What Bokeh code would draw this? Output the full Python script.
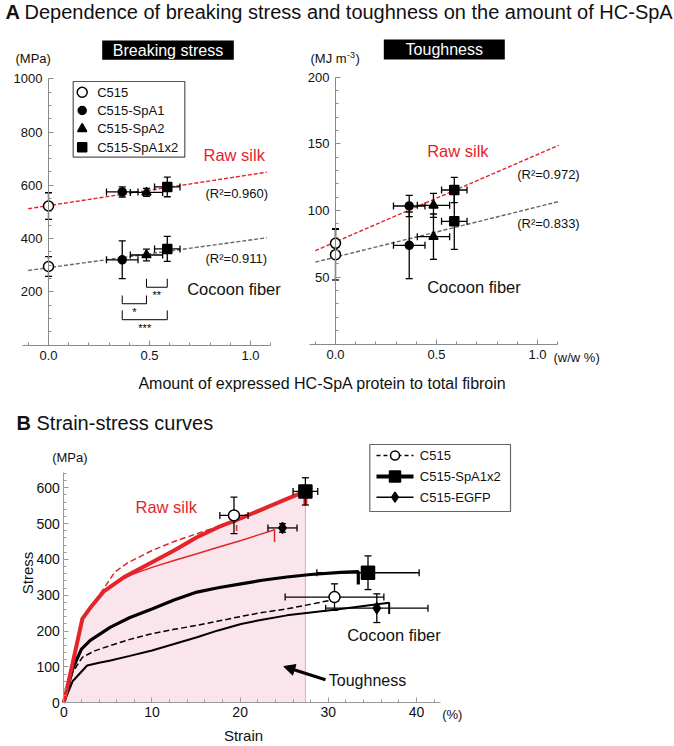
import numpy as np
from bokeh.plotting import figure
from bokeh.models import (Range1d, LinearAxis, FixedTicker, PrintfTickFormatter,
                          Arrow, NormalHead)
from bokeh.core.properties import value
from bokeh.embed import file_html
from bokeh.resources import INLINE

# ---------------- data (panel A) ----------------
lines_A = ["C515", "C515-SpA1", "C515-SpA2", "C515-SpA1x2"]
amount = [0.0, 0.365, 0.485, 0.588]            # w/w %
amount_err = [0.0, 0.078, 0.08, 0.063]

stress_raw = [522, 575, 573, 594]               # MPa
stress_raw_err = [50, 19, 15, 37]
stress_cocoon = [295, 320, 338, 361]
stress_cocoon_err = [37, 71, 22, 47]

tough_raw = [75.5, 103.5, 104, 115.5]           # MJ m-3
tough_raw_err = [11, 8, 9, 9.5]
tough_cocoon = [67, 74, 80.5, 92]
tough_cocoon_err = [19, 25, 17, 21]

fit_stress_raw_x = [-0.1, 1.08]
fit_stress_raw_y = [512, 649]
fit_stress_cocoon_x = [-0.1, 1.08]
fit_stress_cocoon_y = [280, 403]
fit_tough_raw_x = [-0.1, 1.105]
fit_tough_raw_y = [70, 149]
fit_tough_cocoon_x = [-0.1, 1.11]
fit_tough_cocoon_y = [61.4, 107]

r2_stress = ["0.960", "0.911"]
r2_tough = ["0.972", "0.833"]

sig_labels = ["**", "*", "***"]
sig_x0 = [0.485, 0.365, 0.365]
sig_x1 = [0.588, 0.485, 0.588]
sig_base = [217, 155, 95]
sig_top = [249, 186, 130]

# ---------------- data (panel B) ----------------
raw_sp_strain = [0, 1.0, 2.1, 3.0, 4.5, 6.8, 10, 12.5, 15.1, 17.5, 20.1, 22.5, 25.3, 27.4]
raw_sp_stress = [0, 110, 234, 265, 310, 350, 392, 425, 462, 490, 515, 540, 569, 590]
raw_sp_break = 553
raw_c515_strain = [0, 1.0, 2.1, 3.0, 4.5, 5.8, 7.2, 10, 12.5, 15.1, 17.5, 19.6]
raw_c515_stress = [0, 110, 234, 265, 318, 365, 390, 425, 450, 472, 492, 506]
raw_c515_break = 478
raw_egfp_strain = [0, 1.0, 2.1, 3.0, 4.5, 6.8, 10, 12.5, 15.1, 17.5, 20.1, 22, 23.9]
raw_egfp_stress = [0, 110, 234, 265, 310, 350, 378, 397, 416, 434, 453, 468, 483]
raw_egfp_break = 449

coc_sp_strain = [0, 1.0, 2.0, 3.0, 5.3, 7.5, 10, 12.5, 15.1, 17.5, 20.1, 22.5, 25.3, 28, 31.4, 33.4]
coc_sp_stress = [0, 95, 150, 174, 211, 238, 262, 287, 309, 321, 332, 342, 351, 358, 364, 366]
coc_sp_break = 330
coc_c515_strain = [0, 1.0, 2.1, 3.5, 5.3, 7.5, 10, 12.5, 15.1, 17.5, 20.1, 22.5, 25.3, 28, 31]
coc_c515_stress = [0, 85, 127, 145, 160, 177, 193, 205, 216, 228, 241, 252, 262, 275, 290]
coc_egfp_strain = [0, 1.0, 2.65, 4.0, 5.3, 7.5, 10, 12.5, 15.1, 17.5, 20.1, 22.5, 25.3, 28, 31.4, 34, 36.9]
coc_egfp_stress = [0, 60, 104, 112, 118, 131, 146, 164, 183, 202, 220, 232, 244, 252, 262, 270, 279]
coc_egfp_break = 248

lines_B = ["C515", "C515-EGFP", "C515-SpA1x2"]
pt_raw_strain = [19.3, 24.8, 27.4]
pt_raw_strain_err = [1.6, 1.65, 1.4]
pt_raw_stress = [523, 488, 590]
pt_raw_stress_err = [51, 12, 38]
pt_coc_strain = [30.7, 35.5, 34.5]
pt_coc_strain_err = [5.6, 5.8, 5.8]
pt_coc_stress = [295, 264, 363]
pt_coc_stress_err = [37, 40, 47]

# ---------------- layout helpers ----------------
W, H = 674, 746
OFF = 0
FONT = "Liberation Sans"
RED = "#e3242b"
AXC = "#8a8a8a"


def lin_range(p0, v0, p1, v1, lo_pix, hi_pix):
    k = (v1 - v0) / (p1 - p0)
    return Range1d(start=v0 + (lo_pix - p0) * k, end=v0 + (hi_pix - p0) * k)


def xr(p0, v0, p1, v1):
    return lin_range(p0 - OFF, v0, p1 - OFF, v1, 0, W)


def yr(p0, v0, p1, v1):
    return lin_range(p0 - OFF, v0, p1 - OFF, v1, H, 0)


p = figure(width=W, height=H, x_range=Range1d(0, W), y_range=Range1d(H, 0),
           x_axis_location=None, y_axis_location=None, toolbar_location=None,
           output_backend="svg", min_border=0, outline_line_color=None)
p.grid.visible = False
p.extra_x_ranges = {"A1x": xr(48, 0.0, 250, 1.0), "A2x": xr(335, 0.0, 537, 1.0),
                    "Bx": xr(63.3, 0, 416, 40)}
p.extra_y_ranges = {"A1y": yr(344.5, 0, 78.3, 1000), "A2y": yr(343.5, 0, 76.8, 200),
                    "By": yr(702.3, 0, 487.3, 600)}


def axis(side, xn, yn, loc, bounds, ticks, minor, fmt=None, size="13px",
         tin=5, min_in=3, standoff=6, color=AXC):
    ax = LinearAxis(x_range_name=xn, y_range_name=yn, fixed_location=loc, bounds=bounds,
                    ticker=FixedTicker(ticks=ticks, minor_ticks=minor),
                    axis_line_color=color, major_tick_line_color=color, minor_tick_line_color=color,
                    major_tick_in=tin, major_tick_out=0, minor_tick_in=min_in, minor_tick_out=0,
                    major_label_standoff=standoff, major_label_text_font=FONT,
                    major_label_text_font_size=size, major_label_text_color="#111111")
    if fmt:
        ax.formatter = PrintfTickFormatter(format=fmt)
    p.add_layout(ax, side)


def T(x, y, s, size=13, color="#111111", align="left", baseline="middle", style="normal", angle=0):
    p.text(x=[x - OFF], y=[y - OFF], text=[s], text_font=value(FONT),
           text_font_size=f"{size}px", text_color=color, text_align=align,
           text_baseline=baseline, text_font_style=style, angle=angle)


def ebars(xn, yn, x, y, xe, ye, cap=7, lw=1.3):
    x, y, xe, ye = (np.asarray(a, dtype=float) for a in (x, y, xe, ye))
    kw = dict(x_range_name=xn, y_range_name=yn, line_color="black", line_width=lw)
    m = ye > 0
    p.segment(x0=x[m], y0=(y - ye)[m], x1=x[m], y1=(y + ye)[m], **kw)
    p.scatter(x=np.r_[x[m], x[m]], y=np.r_[(y - ye)[m], (y + ye)[m]], marker="dash", size=cap, **kw)
    m = xe > 0
    p.segment(x0=(x - xe)[m], y0=y[m], x1=(x + xe)[m], y1=y[m], **kw)
    p.scatter(x=np.r_[(x - xe)[m], (x + xe)[m]], y=np.r_[y[m], y[m]], marker="dash",
              angle=np.pi / 2, size=cap, **kw)


markers_A = ["circle", "circle", "triangle", "square"]
fills_A = ["white", "black", "black", "black"]
sizes_A = [10, 8, 9, 9]


def pointsA(xn, yn, ys):
    for i in range(len(lines_A)):
        p.scatter(x=[amount[i]], y=[ys[i]], marker=markers_A[i], size=sizes_A[i],
                  fill_color=fills_A[i], line_color="black", line_width=1.5,
                  x_range_name=xn, y_range_name=yn)


# ---------------- titles ----------------
T(5, 11, "A", size=20, style="bold")
T(24, 11, "Dependence of breaking stress and toughness on the amount of HC-SpA", size=20)
T(16, 422, "B", size=20, style="bold")
T(36, 422, "Strain-stress curves", size=20)

# black header boxes
p.quad(left=[101.7 - OFF, 383.3 - OFF], right=[233.3 - OFF, 504.3 - OFF],
       top=[40 - OFF, 39 - OFF], bottom=[59.3 - OFF, 59 - OFF], fill_color="black", line_color=None)
T(167.5, 49.8, "Breaking stress", size=16, color="white", align="center")
T(443.8, 49.2, "Toughness", size=16, color="white", align="center")

# ---------------- panel A1: breaking stress ----------------
axis("below", "A1x", "A1y", 0, (-0.13, 1.1), [0, 0.5, 1.0],
     [round(-0.1 + 0.1 * i, 2) for i in range(13)], fmt="%.1f")
axis("left", "A1x", "A1y", 0, (0, 1000), [200, 400, 600, 800, 1000],
     list(range(0, 1001, 50)))
T(15, 58.3, "(MPa)", size=13)

p.line(fit_stress_raw_x, fit_stress_raw_y, line_color=RED, line_width=1.4, line_dash="4 2",
       x_range_name="A1x", y_range_name="A1y")
p.line(fit_stress_cocoon_x, fit_stress_cocoon_y, line_color="#666666", line_width=1.4,
       line_dash="4 2", x_range_name="A1x", y_range_name="A1y")
ebars("A1x", "A1y", amount, stress_raw, amount_err, stress_raw_err)
ebars("A1x", "A1y", amount, stress_cocoon, amount_err, stress_cocoon_err)
pointsA("A1x", "A1y", stress_raw)
pointsA("A1x", "A1y", stress_cocoon)

xs = [[a, a, b, b] for a, b in zip(sig_x0, sig_x1)]
ys = [[t, b, b, t] for t, b in zip(sig_top, sig_base)]
p.multi_line(xs=xs, ys=ys, line_color="black", line_width=1,
             x_range_name="A1x", y_range_name="A1y")
p.text(x=[(a + b) / 2 for a, b in zip(sig_x0, sig_x1)], y=sig_base, text=sig_labels,
       text_font=value(FONT), text_font_size="11px", text_align="center", text_baseline="top",
       y_offset=2, text_color="black", x_range_name="A1x", y_range_name="A1y")

T(203, 154, "Raw silk", size=16.5, color=RED)
T(205, 193.3, f"(R\u00b2={r2_stress[0]})", size=13)
T(205, 258.3, f"(R\u00b2={r2_stress[1]})", size=13)
T(186.7, 288.3, "Cocoon fiber", size=16.5)

# legend A
p.quad(left=[72.7 - OFF], right=[184.3 - OFF], top=[81 - OFF], bottom=[156.7 - OFF],
       fill_color="white", line_color="#555555", line_width=1.2)
leg_y = [91.7, 110, 128.3, 146.7]
for i, name in enumerate(lines_A):
    p.scatter(x=[81.7 - OFF], y=[leg_y[i] - OFF], marker=markers_A[i], size=sizes_A[i],
              fill_color=fills_A[i], line_color="black", line_width=1.5)
    T(96.7, leg_y[i], name, size=13)

# ---------------- panel A2: toughness ----------------
axis("below", "A2x", "A2y", 0, (-0.13, 1.1), [0, 0.5, 1.0],
     [round(-0.1 + 0.1 * i, 2) for i in range(13)], fmt="%.1f")
axis("left", "A2x", "A2y", 0, (0, 200), [50, 100, 150, 200], list(range(0, 201, 10)))
T(310, 58.3, "(MJ m", size=13)
T(346.5, 54.5, "-3", size=9)
T(355, 58.3, ")", size=13)
T(553, 356.7, "(w/w %)", size=13)

p.line(fit_tough_raw_x, fit_tough_raw_y, line_color=RED, line_width=1.4, line_dash="4 2",
       x_range_name="A2x", y_range_name="A2y")
p.line(fit_tough_cocoon_x, fit_tough_cocoon_y, line_color="#666666", line_width=1.4,
       line_dash="4 2", x_range_name="A2x", y_range_name="A2y")
ebars("A2x", "A2y", amount, tough_raw, amount_err, tough_raw_err)
ebars("A2x", "A2y", amount, tough_cocoon, amount_err, tough_cocoon_err)
pointsA("A2x", "A2y", tough_raw)
pointsA("A2x", "A2y", tough_cocoon)

T(426.7, 150, "Raw silk", size=16.5, color=RED)
T(516.7, 174, f"(R\u00b2={r2_tough[0]})", size=13)
T(516.7, 223.3, f"(R\u00b2={r2_tough[1]})", size=13)
T(426.7, 286.7, "Cocoon fiber", size=16.5)

T(322, 383, "Amount of expressed HC-SpA protein to total fibroin", size=16, align="center")

# ---------------- panel B ----------------
kB = dict(x_range_name="Bx", y_range_name="By")
p.varea(x=raw_sp_strain, y1=[0] * len(raw_sp_strain), y2=raw_sp_stress,
        fill_color="#fbe5ec", **kB)
p.segment(x0=[raw_sp_strain[-1]], y0=[0], x1=[raw_sp_strain[-1]], y1=[raw_sp_break],
          line_color="#e6b3c3", line_width=1.2, **kB)

axis("below", "Bx", "By", 0, (0, 42.7), [0, 10, 20, 30, 40], list(range(0, 43, 2)),
     tin=5, min_in=3, standoff=4, size="14px", color="#9a9a9a")
axis("left", "Bx", "By", 0, (0, 643), [0, 100, 200, 300, 400, 500, 600],
     list(range(0, 641, 20)), tin=5, min_in=3, standoff=4, size="14px", color="#9a9a9a")
T(51.7, 456.7, "(MPa)", size=13)
T(441.7, 714, "(%)", size=13)
T(27, 572.5, "Stress", size=15, align="center", angle=np.pi / 2)
T(243, 735, "Strain", size=15, align="center")

# cocoon (black) curves
p.line(coc_c515_strain, coc_c515_stress, line_color="black", line_width=1.5, line_dash="6 3", **kB)
p.line(coc_egfp_strain + [coc_egfp_strain[-1]], coc_egfp_stress + [coc_egfp_break],
       line_color="black", line_width=2.0, **kB)
p.line(coc_sp_strain + [coc_sp_strain[-1]], coc_sp_stress + [coc_sp_break],
       line_color="black", line_width=3.2, **kB)
# raw silk (red) curves
p.line(raw_c515_strain + [raw_c515_strain[-1]], raw_c515_stress + [raw_c515_break],
       line_color=RED, line_width=1.5, line_dash="6 3", **kB)
p.line(raw_egfp_strain + [raw_egfp_strain[-1]], raw_egfp_stress + [raw_egfp_break],
       line_color=RED, line_width=1.5, **kB)
p.line(raw_sp_strain + [raw_sp_strain[-1]], raw_sp_stress + [raw_sp_break],
       line_color=RED, line_width=4, **kB)

ebars("Bx", "By", pt_raw_strain, pt_raw_stress, pt_raw_strain_err, pt_raw_stress_err)
ebars("Bx", "By", pt_coc_strain, pt_coc_stress, pt_coc_strain_err, pt_coc_stress_err)
markers_B = ["circle", "diamond", "square"]
fills_B = ["white", "black", "black"]
sizes_B = [11, 11, 13]
for i in range(len(lines_B)):
    for xs_, ys_ in ((pt_raw_strain, pt_raw_stress), (pt_coc_strain, pt_coc_stress)):
        p.scatter(x=[xs_[i]], y=[ys_[i]], marker=markers_B[i], size=sizes_B[i],
                  fill_color=fills_B[i], line_color="black", line_width=1.5, **kB)

T(135, 506.7, "Raw silk", size=16.5, color=RED)
T(346.7, 634, "Cocoon fiber", size=16.5)
T(328.3, 680, "Toughness", size=16)
p.add_layout(Arrow(end=NormalHead(size=11, fill_color="black", line_color="black"),
                   x_start=325 - OFF, y_start=679.3 - OFF, x_end=283.3 - OFF, y_end=666 - OFF,
                   line_width=3, line_color="black"))

# legend B
p.quad(left=[369.3 - OFF], right=[510 - OFF], top=[444 - OFF], bottom=[511 - OFF],
       fill_color="white", line_color="#666666", line_width=1.2)
legB_names = ["C515", "C515-SpA1x2", "C515-EGFP"]
legB_y = [455, 476, 496.7]
legB_marker = ["circle", "square", "diamond"]
legB_fill = ["white", "black", "black"]
legB_lw = [1.3, 4, 1.5]
legB_dash = ["4 3", "solid", "solid"]
legB_size = [9, 11, 10]
for i in range(3):
    p.line([376 - OFF, 413 - OFF], [legB_y[i] - OFF] * 2, line_color="black",
           line_width=legB_lw[i], line_dash=legB_dash[i])
    p.scatter(x=[394.5 - OFF], y=[legB_y[i] - OFF], marker=legB_marker[i], size=legB_size[i],
              fill_color=legB_fill[i], line_color="black", line_width=1.5)
    T(419.3, legB_y[i], legB_names[i], size=13)

open("out.html", "w").write(file_html(p, INLINE))
